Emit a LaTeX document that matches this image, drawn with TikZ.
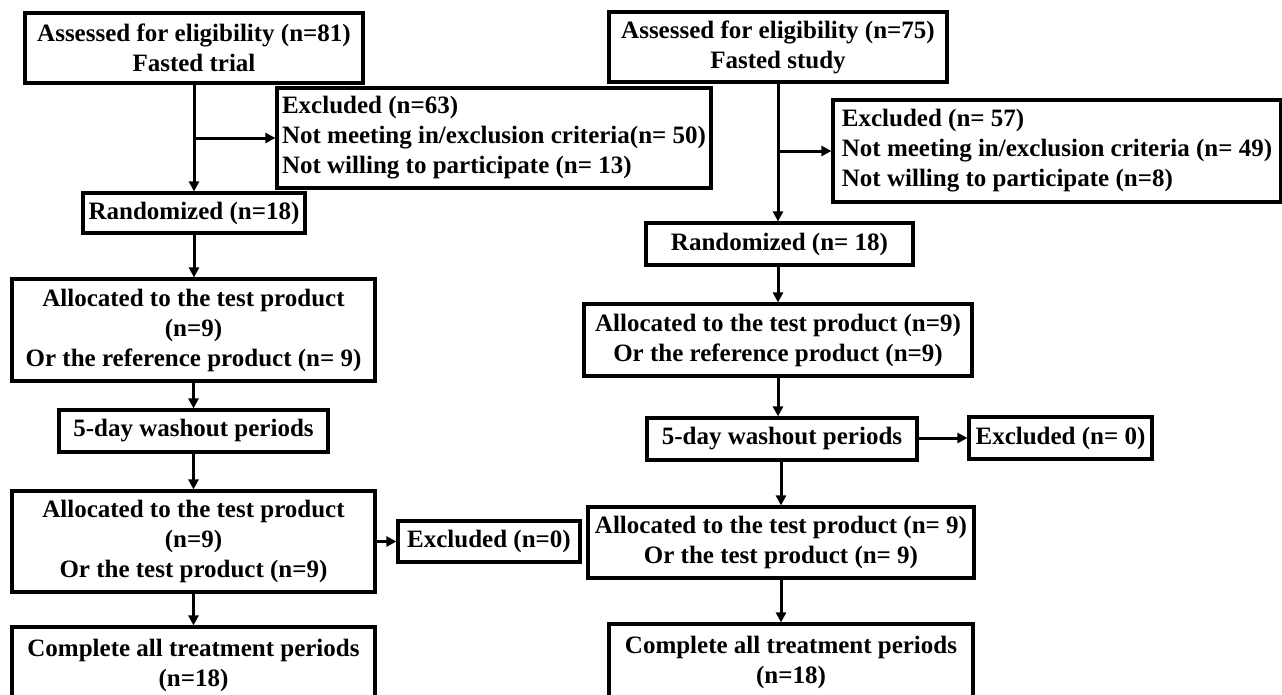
\documentclass[tikz,border=0pt]{standalone}
\usepackage{fontspec}
\setmainfont{Liberation Serif}
\usetikzlibrary{arrows.meta}

\begin{document}
\begin{tikzpicture}[x=1pt,y=-1pt,
	font=\fontsize{25}{30}\selectfont\bfseries,
	box/.style={draw, line width=3.2pt, align=center, inner sep=0pt},
	exbox/.style={draw, line width=3.2pt, align=left, inner sep=0pt},
	arr/.style={line width=3pt, -{Triangle[length=10pt,width=10pt]}}]
	\useasboundingbox (0,0) rectangle (1282,694);

	% fasted trial
	\node[box, minimum width=338pt, minimum height=70pt]	(a1)  at (194,48)    {Assessed for eligibility (n=81)\\Fasted trial};
	\node[exbox, minimum width=434pt, minimum height=100pt]	(e1)  at (494,138)   {Excluded (n=63)\\Not meeting in/exclusion criteria(n= 50)\\Not willing to participate (n= 13)};
	\node[box, minimum width=222pt, minimum height=40pt]	(r1)  at (194,213)   {Randomized (n=18)};
	\node[box, minimum width=363pt, minimum height=102pt]	(l1)  at (193.5,330) {Allocated to the test product\\(n=9)\\Or the reference product (n= 9)};
	\node[box, minimum width=269pt, minimum height=42pt]	(w1)  at (193.5,431) {5-day washout periods};
	\node[box, minimum width=363pt, minimum height=101pt]	(l1b) at (193.5,541.5) {Allocated to the test product\\(n=9)\\Or the test product (n=9)};
	\node[box, minimum width=182pt, minimum height=41pt]	(x1)  at (489,541.5) {Excluded (n=0)};
	\node[box, minimum width=363pt, minimum height=76pt]	(c1)  at (193.5,665) {Complete all treatment periods\\(n=18)};

	% fasted study
	\node[box, minimum width=338pt, minimum height=70pt]	(a2)  at (778,47)    {Assessed for eligibility (n=75)\\Fasted study};
	\node[exbox, minimum width=448pt, minimum height=102pt]	(e2)  at (1057,151)  {Excluded (n= 57)\\Not meeting in/exclusion criteria (n= 49)\\Not willing to participate (n=8)};
	\node[box, minimum width=267pt, minimum height=42pt]	(r2)  at (779.5,244) {Randomized (n= 18)};
	\node[box, minimum width=388pt, minimum height=72pt]	(l2)  at (778,340)   {Allocated to the test product (n=9)\\Or the reference product (n=9)};
	\node[box, minimum width=270pt, minimum height=42pt]	(w2)  at (782,439)   {5-day washout periods};
	\node[box, minimum width=183pt, minimum height=42pt]	(x2)  at (1060.5,438) {Excluded (n= 0)};
	\node[box, minimum width=386pt, minimum height=71pt]	(l2b) at (781,542.5) {Allocated to the test product (n= 9)\\Or the test product (n= 9)};
	\node[box, minimum width=364pt, minimum height=76pt]	(c2)  at (791,662)   {Complete all treatment periods\\(n=18)};

	\draw[arr]	(a1.south) -- (r1.north);
	\draw[arr]	(a1.south |- e1.west) -- (e1.west);
	\draw[arr]	(r1.south) -- (r1.south |- l1.north);
	\draw[arr]	(l1.south) -- (w1.north);
	\draw[arr]	(w1.south) -- (l1b.north);
	\draw[arr]	(l1b.east |- x1.west) -- (x1.west);
	\draw[arr]	(l1b.south) -- (c1.north);

	\draw[arr]	(a2.south) -- (a2.south |- r2.north);
	\draw[arr]	(a2.south |- e2.west) -- (e2.west);
	\draw[arr]	(l2.north |- r2.south) -- (l2.north);
	\draw[arr]	(l2.south) -- (l2.south |- w2.north);
	\draw[arr]	(w2.east |- x2.west) -- (x2.west);
	\draw[arr]	(l2b.north |- w2.south) -- (l2b.north);
	\draw[arr]	(l2b.south) -- (l2b.south |- c2.north);

\end{tikzpicture}
\end{document}
